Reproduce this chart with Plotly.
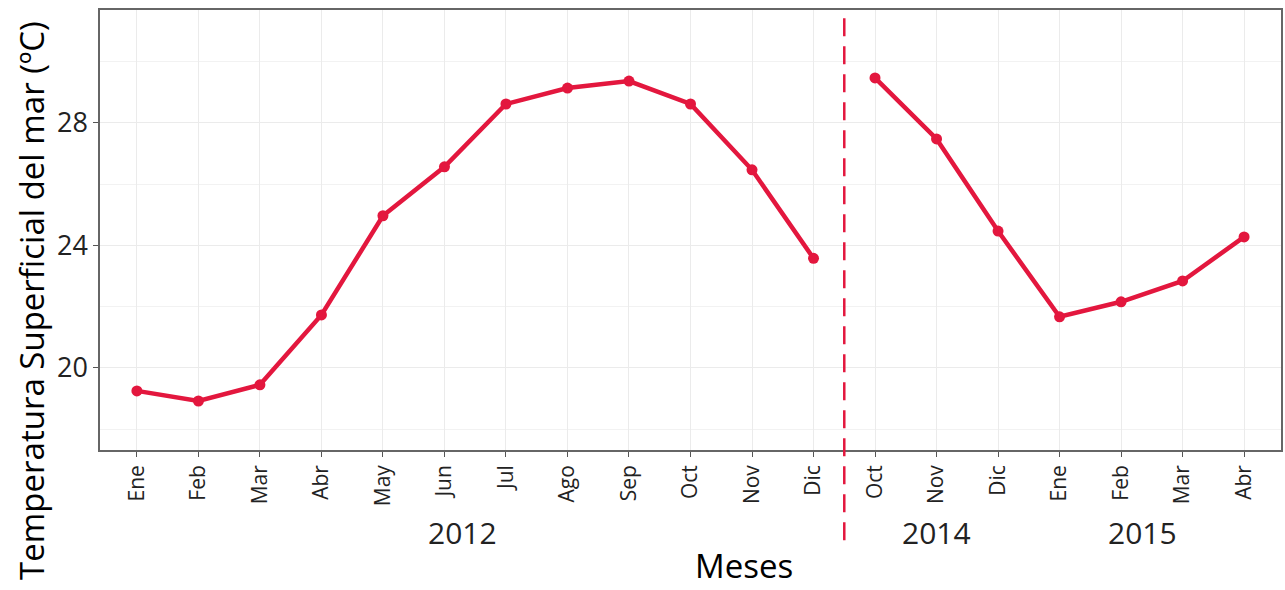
import plotly.graph_objects as go

# Monthly sea surface temperature (ºC)
meses = ["Ene", "Feb", "Mar", "Abr", "May", "Jun", "Jul", "Ago", "Sep", "Oct", "Nov", "Dic",
         "Oct", "Nov", "Dic", "Ene", "Feb", "Mar", "Abr"]
temp_2012 = [19.25, 18.92, 19.45, 21.73, 24.97, 26.57, 28.62, 29.14, 29.37, 28.62, 26.47, 23.58]
temp_2014_2015 = [29.47, 27.48, 24.47, 21.67, 22.16, 22.84, 24.28]
anios = ["2012", "2014", "2015"]
anio_pos = [5.3, 13.0, 16.35]

color = "#E3173E"
idx_2012 = list(range(len(temp_2012)))
idx_1415 = list(range(len(temp_2012), len(temp_2012) + len(temp_2014_2015)))

fig = go.Figure()
for xs, ys in [(idx_2012, temp_2012), (idx_1415, temp_2014_2015)]:
    fig.add_trace(go.Scatter(
        x=xs, y=ys, mode="lines+markers",
        line=dict(color=color, width=4.5),
        marker=dict(color=color, size=11),
        showlegend=False, cliponaxis=False,
    ))

font = "Open Sans, Noto Sans, sans-serif"
fig.update_layout(
    width=1285, height=590,
    margin=dict(l=100, r=2, t=10, b=140),
    plot_bgcolor="white", paper_bgcolor="white",
    font=dict(family=font, color="black"),
    xaxis=dict(
        range=[-0.6, 18.6],
        tickmode="array", tickvals=list(range(len(meses))), ticktext=meses,
        tickangle=-90, tickfont=dict(size=21, color="#222"),
        showgrid=True, gridcolor="#EBEBEB", gridwidth=1,
        ticks="outside", ticklen=5, tickcolor="#555",
        showline=True, linecolor="#666", linewidth=1.5, mirror=True,
        zeroline=False,
    ),
    yaxis=dict(
        range=[17.32, 31.69],
        tickmode="array", tickvals=[20, 24, 28],
        tickfont=dict(size=27, color="#222"),
        showgrid=True, gridcolor="#EBEBEB", gridwidth=1.3,
        minor=dict(tickvals=[18, 22, 26, 30], showgrid=True, gridcolor="#F2F2F2", ticks=""),
        ticks="outside", ticklen=5, tickcolor="#555",
        showline=True, linecolor="#666", linewidth=1.5, mirror=True,
        zeroline=False,
    ),
)

# Y-axis title placed as an annotation so it can sit across the full height
fig.add_annotation(text="Temperatura Superficial del mar (ºC)", textangle=-90,
                   x=-0.058, xref="paper", y=0.34, yref="paper",
                   xanchor="center", yanchor="middle", showarrow=False,
                   font=dict(size=33, color="black"))

# Separator between the two sampling periods
fig.add_shape(type="line", xref="x", yref="paper", x0=11.5, x1=11.5, y0=-0.205, y1=1,
              line=dict(color=color, width=2.5, dash="18px,10px"))

for txt, xp in zip(anios, anio_pos):
    fig.add_annotation(text=txt, x=xp, xref="x", y=-0.187, yref="paper",
                       showarrow=False, font=dict(size=30, color="#222"), yanchor="middle")

fig.add_annotation(text="Meses", x=0.545, xref="paper", y=-0.262, yref="paper",
                   showarrow=False, font=dict(size=33, color="black"), yanchor="middle")

fig.write_html("out.html")
